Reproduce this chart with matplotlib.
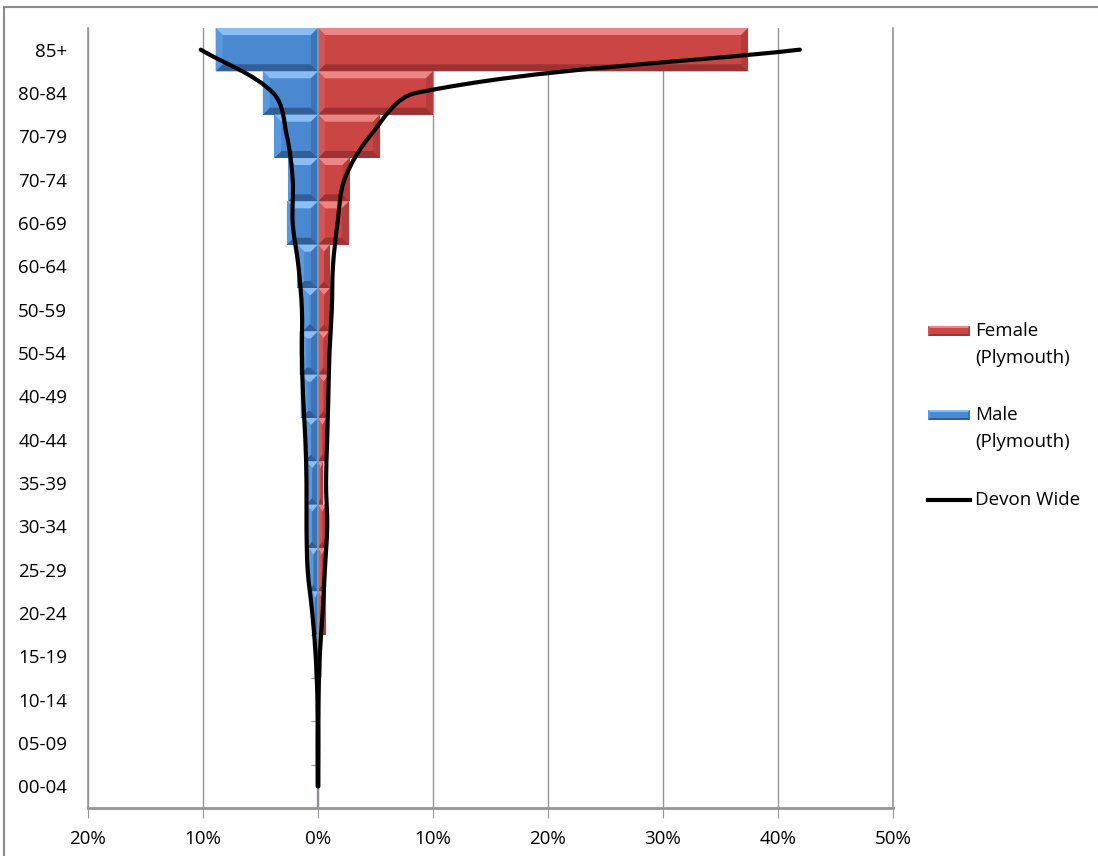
import numpy as np
import matplotlib
matplotlib.use("Agg")
import matplotlib.pyplot as plt
from matplotlib.patches import Polygon, PathPatch
from matplotlib.path import Path
from matplotlib.lines import Line2D
from matplotlib.ticker import FuncFormatter

plt.rcParams['font.family'] = ['Open Sans', 'DejaVu Sans']
plt.rcParams['font.size'] = 13.5

# categories listed top to bottom, as on the chart
age_groups = ['85+', '80-84', '70-79', '70-74', '60-69', '60-64', '50-59', '50-54', '40-49',
              '40-44', '35-39', '30-34', '25-29', '20-24', '15-19', '10-14', '05-09', '00-04']
female_plymouth = [37.4, 10.0, 5.4, 2.75, 2.7, 1.05, 1.05, 0.95, 0.95,
                   0.75, 0.45, 0.75, 0.65, 0.7, 0.3, 0.1, 0.08, 0.05]
male_plymouth = [-8.9, -4.8, -3.8, -2.6, -2.7, -1.8, -1.35, -1.6, -1.5,
                 -1.2, -1.0, -1.0, -0.8, -0.5, -0.3, -0.15, -0.12, -0.1]
devon_female = [41.9, 8.5, 4.5, 2.3, 1.7, 1.3, 1.2, 1.0, 0.9,
                0.8, 0.7, 0.8, 0.6, 0.4, 0.15, 0.05, 0.04, 0.03]
devon_male = [-10.2, -3.9, -2.7, -2.2, -2.2, -1.7, -1.4, -1.4, -1.3,
              -1.1, -1.0, -1.0, -0.9, -0.5, -0.2, -0.05, -0.04, -0.03]
x_ticks = [-20, -10, 0, 10, 20, 30, 40, 50]

W, H = 1098, 856
GRID = '#969696'
RED = dict(face='#CB4545', top='#EC8585', bottom='#9E3232', left='#D55353', right='#B53C3C')
BLUE = dict(face='#4A89D1', top='#8ABEF2', bottom='#325F97', left='#5A98DE', right='#3E74B6')

fig = plt.figure(figsize=(W / 100, H / 100), dpi=100)
ax = fig.add_axes([88 / W, 48 / H, 805 / W, 780 / H])

n = len(age_groups)
ypos = np.arange(n)[::-1]
# pixels per data unit, used for bevel size and curve smoothing
SX, SY = 805 / 70, 780 / n


def bevel(target, x0, x1, y0, y1, bx, by, col, transform, z=2):
    bx = min(bx, (x1 - x0) / 2)
    by = min(by, (y1 - y0) / 2)
    parts = [
        ([(x0, y0), (x1, y0), (x1, y1), (x0, y1)], col['face']),
        ([(x0, y1), (x1, y1), (x1 - bx, y1 - by), (x0 + bx, y1 - by)], col['top']),
        ([(x0, y0), (x1, y0), (x1 - bx, y0 + by), (x0 + bx, y0 + by)], col['bottom']),
        ([(x0, y0), (x0, y1), (x0 + bx, y1 - by), (x0 + bx, y0 + by)], col['left']),
        ([(x1, y0), (x1, y1), (x1 - bx, y1 - by), (x1 - bx, y0 + by)], col['right']),
    ]
    for pts, c in parts:
        target.add_artist(Polygon(pts, closed=True, facecolor=c, edgecolor='none',
                                  transform=transform, zorder=z))


BX, BY = 7 / SX, 7 / SY
for y, f, m in zip(ypos, female_plymouth, male_plymouth):
    bevel(ax, 0, f, y - 0.5, y + 0.5, BX, BY, RED, ax.transData)
    bevel(ax, m, 0, y - 0.5, y + 0.5, BX, BY, BLUE, ax.transData)


def smooth_path(xs, ys):
    # bezier smoothing done in pixel space, tangent length tied to segment length
    pts = np.column_stack([np.asarray(xs) * SX, np.asarray(ys) * SY])
    ext = np.vstack([pts[0], pts, pts[-1]])
    tang = ext[2:] - ext[:-2]
    tang = tang / np.linalg.norm(tang, axis=1, keepdims=True)
    verts = [pts[0]]
    codes = [Path.MOVETO]
    for i in range(len(pts) - 1):
        seg = np.linalg.norm(pts[i + 1] - pts[i]) / 3
        verts += [pts[i] + tang[i] * seg, pts[i + 1] - tang[i + 1] * seg, pts[i + 1]]
        codes += [Path.CURVE4] * 3
    verts = np.array(verts) / [SX, SY]
    return Path(verts, codes)


for series in (devon_male, devon_female):
    ax.add_patch(PathPatch(smooth_path(series, ypos), facecolor='none', edgecolor='black',
                           lw=3.0, capstyle='round', zorder=5))

ax.set_xlim(-20, 50)
ax.set_ylim(-0.5, n - 0.5)
ax.set_xticks(x_ticks)
ax.xaxis.set_major_formatter(FuncFormatter(lambda v, p: f"{abs(v):.0f}%"))
ax.set_yticks(ypos)
ax.set_yticklabels(age_groups)
ax.tick_params(axis='y', length=0, pad=15)
ax.tick_params(axis='x', length=7, color=GRID, pad=9)
ax.grid(axis='x', color=GRID, lw=1)
ax.set_axisbelow(True)
ax.spines['top'].set_visible(False)
for s in ['left', 'right', 'bottom']:
    ax.spines[s].set_color(GRID)
    ax.spines[s].set_linewidth(1.2)
ax.spines['bottom'].set_linewidth(2)

ax.axvline(0, color=GRID, lw=1.2, zorder=4)
sec = ax.secondary_yaxis(20 / 70)
sec.set_yticks(np.arange(n + 1) - 0.5)
sec.set_yticklabels([])
sec.tick_params(length=5, color=GRID)
sec.spines['left'].set_color(GRID)


# legend, laid out like the original at the right of the plot
def px(x, y):
    return x / W, 1 - y / H


lx0, lx1 = 928, 970
for yc, col, lines in [(331, RED, ['Female', '(Plymouth)']), (415, BLUE, ['Male', '(Plymouth)'])]:
    (a, b), (c, d) = px(lx0, yc + 5), px(lx1, yc - 5)
    bevel(fig, a, c, b, d, 2 / W, 2 / H, col, fig.transFigure)
    for k, t in enumerate(lines):
        fig.text(*px(975, yc + 27 * k), t, va='center', ha='left')
(a, b), (c, d) = px(lx0, 500), px(lx1, 500)
fig.add_artist(Line2D([a, c], [b, d], color='black', lw=3.0, transform=fig.transFigure))
fig.text(*px(975, 500), 'Devon Wide', va='center', ha='left')

# chart frame
fig.add_artist(Line2D([4 / W, 4 / W], [0, 1 - 7 / H], color='#8C8C8C', lw=1.5, transform=fig.transFigure))
fig.add_artist(Line2D([4 / W, 1], [1 - 7 / H, 1 - 7 / H], color='#8C8C8C', lw=1.5, transform=fig.transFigure))

fig.savefig('out.png', dpi=100)
